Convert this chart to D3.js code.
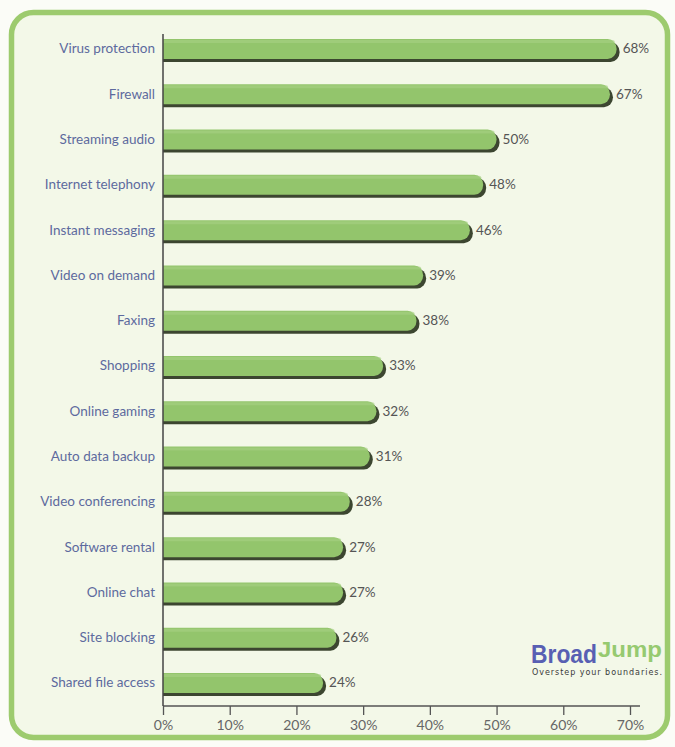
<!DOCTYPE html>
<html>
<head>
<meta charset="utf-8">
<script src="https://cdn.jsdelivr.net/npm/d3@7"></script>
<style>
  html, body { margin: 0; padding: 0; background: #fbfcf7; }
  svg { display: block; }
</style>
</head>
<body>
<svg id="chart" width="675" height="747"></svg>
<script>
// Broadband services of interest (% of respondents)
const categories = [
  "Virus protection", "Firewall", "Streaming audio", "Internet telephony",
  "Instant messaging", "Video on demand", "Faxing", "Shopping",
  "Online gaming", "Auto data backup", "Video conferencing", "Software rental",
  "Online chat", "Site blocking", "Shared file access"
];
const values = [68, 67, 50, 48, 46, 39, 38, 33, 32, 31, 28, 27, 27, 26, 24];
const tickValues = [0, 10, 20, 30, 40, 50, 60, 70];
const tickLabels = ["0%", "10%", "20%", "30%", "40%", "50%", "60%", "70%"];

const svg = d3.select("#chart");
const font = "Lato, 'Open Sans', sans-serif";

// Frame
svg.append("rect")
  .attr("x", 11.5).attr("y", 12.5)
  .attr("width", 656).attr("height", 725)
  .attr("rx", 22).attr("ry", 22)
  .attr("fill", "#f3f8e8")
  .attr("stroke", "#9dcb6e")
  .attr("stroke-width", 5.5);

const x = d3.scaleLinear().domain([0, 70]).range([163, 630]);
const y = d3.scalePoint().domain(categories).range([49, 683]);
const barH = 20, shadow = 3;

// Axis
const axisY = 706;
const xAxis = d3.axisBottom(x)
  .tickValues(tickValues)
  .tickFormat((d, i) => tickLabels[i])
  .tickSize(9)
  .tickPadding(5);
const gx = svg.append("g").attr("transform", `translate(0,${axisY})`).call(xAxis);
gx.select(".domain").remove();
gx.selectAll(".tick line").attr("stroke", "#555").attr("stroke-width", 1.3);
gx.selectAll(".tick text")
  .attr("fill", "#666").attr("font-family", font).attr("font-size", 14);
svg.append("line")
  .attr("x1", x(0)).attr("x2", 640)
  .attr("y1", axisY).attr("y2", axisY)
  .attr("stroke", "#555").attr("stroke-width", 1.3);

// Bars: dark shadow under a green rounded bar
const rows = svg.append("g").selectAll("g")
  .data(categories.map((c, i) => ({ c, v: values[i] })))
  .join("g")
  .attr("transform", d => `translate(0,${y(d.c) - barH / 2})`);

function barPath(w, h, r) {
  const x0 = x(0);
  const x1 = x0 + w;
  return `M${x0},0 H${x1 - r} A${r},${h / 2} 0 0 1 ${x1 - r},${h} H${x0} Z`;
}

rows.append("path")
  .attr("d", d => barPath(x(d.v) - x(0) + 3, barH, 9))
  .attr("transform", `translate(0,${shadow})`)
  .attr("fill", "#3c4630");

rows.append("path")
  .attr("d", d => barPath(x(d.v) - x(0), barH, 9))
  .attr("fill", "#93c56c");

rows.append("path")
  .attr("d", d => barPath(x(d.v) - x(0) - 2, 3, 2))
  .attr("transform", "translate(0,1)")
  .attr("fill", "#a6d183")
  .attr("opacity", 0.6);

// Value labels
rows.append("text")
  .attr("x", d => x(d.v) + 6)
  .attr("y", barH / 2 + 1)
  .attr("dominant-baseline", "middle")
  .attr("font-family", font).attr("font-size", 13.5)
  .attr("fill", "#555")
  .text(d => d.v + "%");

// Category labels
rows.append("text")
  .attr("x", 155)
  .attr("y", barH / 2 + 1)
  .attr("text-anchor", "end")
  .attr("dominant-baseline", "middle")
  .attr("font-family", font).attr("font-size", 13.5)
  .attr("fill", "#5d6a9e")
  .text(d => d.c);

// Vertical baseline
svg.append("line")
  .attr("x1", x(0)).attr("x2", x(0))
  .attr("y1", 34).attr("y2", axisY)
  .attr("stroke", "#444").attr("stroke-width", 1.5);

// Logo
const logo = svg.append("g").attr("transform", "translate(531,663)");
logo.append("text")
  .attr("x", 0).attr("y", 0)
  .attr("font-family", "'Liberation Sans', Arial, sans-serif")
  .attr("font-weight", "bold").attr("font-size", 25)
  .attr("textLength", 66).attr("lengthAdjust", "spacingAndGlyphs")
  .attr("fill", "#585fb3")
  .text("Broad");
logo.append("text")
  .attr("x", 67).attr("y", -6)
  .attr("font-family", "'Liberation Sans', Arial, sans-serif")
  .attr("font-weight", "bold").attr("font-size", 22)
  .attr("textLength", 64).attr("lengthAdjust", "spacingAndGlyphs")
  .attr("fill", "#96ca70")
  .text("Jump");
logo.append("text")
  .attr("x", 1).attr("y", 12)
  .attr("font-family", "'DejaVu Sans', sans-serif")
  .attr("font-size", 8)
  .attr("textLength", 130).attr("lengthAdjust", "spacing")
  .attr("fill", "#3a3a3a")
  .text("Overstep your boundaries.");
</script>
</body>
</html>
